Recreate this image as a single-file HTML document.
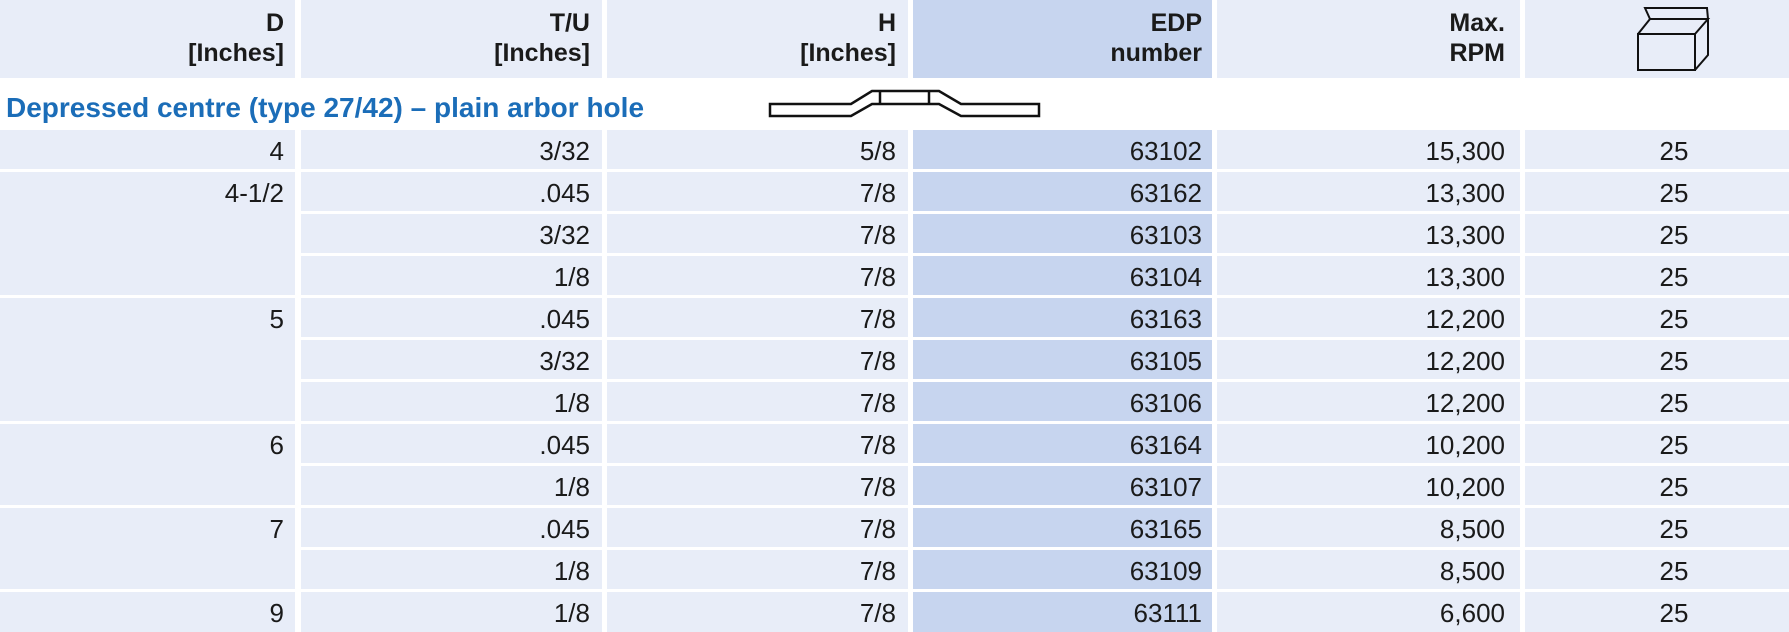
<!DOCTYPE html>
<html><head><meta charset="utf-8"><style>
html,body{margin:0;padding:0;background:#fff;}
svg{display:block;}
text{font-family:"Liberation Sans",sans-serif;fill:#1a1a1a;}
</style></head><body>
<svg width="1789" height="632" viewBox="0 0 1789 632" xmlns="http://www.w3.org/2000/svg">
<g>
<rect x="0" y="0" width="295" height="78" fill="#e8edf8"/>
<rect x="301" y="0" width="301" height="78" fill="#e8edf8"/>
<rect x="607" y="0" width="301" height="78" fill="#e8edf8"/>
<rect x="913" y="0" width="299" height="78" fill="#c7d5ef"/>
<rect x="1217" y="0" width="303" height="78" fill="#e8edf8"/>
<rect x="1525" y="0" width="264" height="78" fill="#e8edf8"/>
</g>
<g font-weight="bold" font-size="25" text-anchor="end">
<text x="284" y="31">D</text><text x="284" y="61">[Inches]</text>
<text x="590" y="31">T/U</text><text x="590" y="61">[Inches]</text>
<text x="896" y="31">H</text><text x="896" y="61">[Inches]</text>
<text x="1202" y="31">EDP</text><text x="1202" y="61">number</text>
<text x="1505" y="31">Max.</text><text x="1505" y="61">RPM</text>
</g>
<g fill="none" stroke="#111" stroke-width="2">
<rect x="1638" y="34" width="57" height="36"/>
<polyline points="1638,34 1650,19 1708,19 1695,34"/>
<polyline points="1708,19 1708,55 1695,70"/>
<polyline points="1650,19 1645,8 1707,8 1708,19"/>
</g>
<text x="6" y="117" font-weight="bold" font-size="28" style="fill:#1b6db8">Depressed centre (type 27/42) – plain arbor hole</text>
<g fill="#fff" stroke="#111" stroke-width="2.5">
<polygon points="770,104 851,104 872,91 939,91 961,104 1039,104 1039,116 961,116 939,104 872,104 851,116 770,116"/>
<line x1="880" y1="91" x2="880" y2="104"/>
<line x1="929" y1="91" x2="929" y2="104"/>
</g>
<g fill="#e8edf8">
<rect x="0" y="130" width="295" height="39"/>
<rect x="0" y="172" width="295" height="123"/>
<rect x="0" y="298" width="295" height="123"/>
<rect x="0" y="424" width="295" height="81"/>
<rect x="0" y="508" width="295" height="81"/>
<rect x="0" y="592" width="295" height="40"/>
</g>
<g id="cells"></g>
<g font-size="26" text-anchor="end">
<text x="284" y="160">4</text>
<text x="284" y="202">4-1/2</text>
<text x="284" y="328">5</text>
<text x="284" y="454">6</text>
<text x="284" y="538">7</text>
<text x="284" y="622">9</text>
</g>
<script>
var tops=[130,172,214,256,298,340,382,424,466,508,550,592];
var data=[["3/32","5/8","63102","15,300"],[".045","7/8","63162","13,300"],["3/32","7/8","63103","13,300"],["1/8","7/8","63104","13,300"],[".045","7/8","63163","12,200"],["3/32","7/8","63105","12,200"],["1/8","7/8","63106","12,200"],[".045","7/8","63164","10,200"],["1/8","7/8","63107","10,200"],[".045","7/8","63165","8,500"],["1/8","7/8","63109","8,500"],["1/8","7/8","63111","6,600"]];
var cols=[[301,301,590,"#e8edf8"],[607,301,896,"#e8edf8"],[913,299,1202,"#c7d5ef"],[1217,303,1505,"#e8edf8"]];
var ns="http://www.w3.org/2000/svg",g=document.getElementById("cells");
tops.forEach(function(t,i){
 var h=(i==11)?40:39;
 cols.forEach(function(c,j){
  var r=document.createElementNS(ns,"rect");r.setAttribute("x",c[0]);r.setAttribute("y",t);r.setAttribute("width",c[1]);r.setAttribute("height",h);r.setAttribute("fill",c[3]);g.appendChild(r);
  var tx=document.createElementNS(ns,"text");tx.setAttribute("x",c[2]);tx.setAttribute("y",t+30);tx.setAttribute("font-size","26");tx.setAttribute("text-anchor","end");tx.textContent=data[i][j];g.appendChild(tx);
 });
 var r=document.createElementNS(ns,"rect");r.setAttribute("x",1525);r.setAttribute("y",t);r.setAttribute("width",264);r.setAttribute("height",h);r.setAttribute("fill","#e8edf8");g.appendChild(r);
 var tx=document.createElementNS(ns,"text");tx.setAttribute("x",1674);tx.setAttribute("y",t+30);tx.setAttribute("font-size","26");tx.setAttribute("text-anchor","middle");tx.textContent="25";g.appendChild(tx);
});
</script>
</svg>
</body></html>
